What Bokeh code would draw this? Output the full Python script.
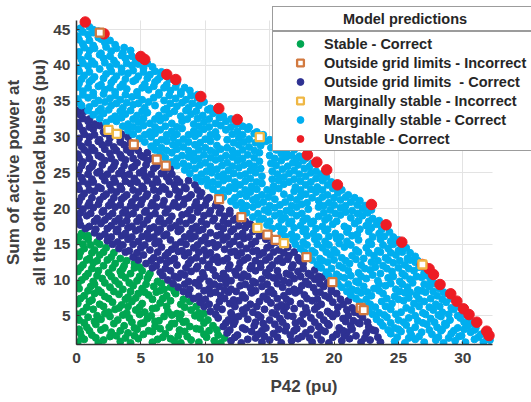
from bokeh.plotting import figure
from bokeh.models import Range1d, Legend, LegendItem, FixedTicker
from bokeh.embed import file_html
from bokeh.resources import INLINE

# ---------------- data ----------------
stable_correct = [
    (0.1,1.3),(0.6,1.7),(1.7,1.2),(2.1,1.6),(3.4,1.4),(4.2,1.2),(4.8,1.8),(5.9,1.3),(6.3,1.7),(7.6,1.5),(8.1,1.2),(8.9,1.6),(9.5,1.3),(10.7,1.5),(11.2,1.2),
    (0.4,2.0),(1.5,1.9),(2.6,2.1),(3.8,1.9),(4.5,2.2),(6.7,2.0),(7.3,1.8),(8.6,2.1),(10.1,2.0),(11.5,1.9),
    (0.3,2.6),(1.2,2.3),(2.7,2.7),(3.1,2.2),(4.0,2.6),(5.2,2.4),(5.6,2.9),(6.9,2.5),(7.9,2.2),(8.4,2.8),(9.9,2.4),(10.3,2.9),(11.0,2.3),
    (0.2,3.1),(1.0,2.9),(1.9,3.0),(3.4,2.9),(4.7,3.1),(5.9,2.8),(6.5,3.2),(8.0,3.0),(9.6,3.1),(10.9,3.0),
    (0.8,3.4),(1.5,3.8),(2.2,3.3),(3.7,3.6),(4.5,3.3),(5.0,3.9),(6.1,3.5),(7.2,3.4),(7.6,3.9),(8.8,3.5),(9.3,3.2),(10.6,3.6),
    (0.6,4.0),(1.4,4.2),(2.9,3.9),(4.3,4.1),(5.2,4.0),(6.1,4.2),(7.4,3.9),(8.3,4.1),(9.9,4.0),
    (0.2,4.4),(0.9,4.8),(1.9,4.5),(2.6,4.9),(3.2,4.4),(4.1,4.7),(5.5,4.6),(6.4,4.3),(6.8,4.9),(8.0,4.6),(8.5,4.2),(9.6,4.7),(10.2,4.4),
    (0.1,5.2),(1.6,5.0),(2.2,5.3),(3.6,5.1),(4.9,5.2),(5.8,5.0),(7.4,5.1),(8.1,5.2),(9.2,5.0),(9.9,5.3),
    (0.5,5.6),(1.3,5.9),(2.5,5.5),(3.0,5.9),(3.9,5.4),(4.6,5.8),(5.3,5.5),(5.9,6.0),(7.1,5.6),(7.8,5.3),(8.9,5.8),(9.5,5.4),
    (0.8,6.2),(2.1,6.3),(3.3,6.1),(4.0,6.3),(4.9,6.2),(6.2,6.1),(7.0,6.3),(8.4,6.2),(9.3,6.3),
    (0.1,6.7),(1.0,7.0),(1.8,6.6),(2.8,6.9),(3.5,6.5),(4.3,7.0),(5.1,6.7),(6.5,6.8),(7.3,7.1),(8.1,6.6),(8.8,7.0),
    (0.3,7.4),(1.2,7.2),(2.5,7.4),(3.8,7.3),(4.6,7.5),(5.9,7.3),(6.7,7.4),(8.3,7.3),
    (0.6,7.8),(1.4,8.1),(2.2,7.7),(3.3,8.0),(4.0,7.6),(4.8,8.1),(5.6,7.9),(6.2,8.3),(7.0,7.8),(7.7,8.1),
    (0.9,8.5),(1.9,8.3),(2.9,8.4),(4.2,8.4),(5.3,8.3),(6.5,8.5),(7.6,8.4),
    (0.2,8.8),(1.1,9.1),(1.7,8.6),(2.6,9.0),(3.6,8.7),(4.4,9.2),(5.1,8.8),(6.0,9.1),(6.8,8.7),(7.3,9.0),
    (0.1,9.5),(1.4,9.4),(2.2,9.6),(3.3,9.4),(4.1,9.6),(5.4,9.4),(6.6,9.5),
    (0.4,10.0),(1.3,9.8),(2.0,10.2),(3.0,9.9),(3.8,10.3),(4.7,9.9),(5.5,10.2),(6.3,9.8),
    (0.7,10.5),(1.6,10.6),(2.7,10.5),(3.5,10.7),(4.9,10.5),(5.6,10.6),
    (0.1,11.2),(0.9,10.9),(1.7,11.3),(2.5,11.0),(3.4,11.2),(4.2,10.9),(5.1,11.3),(5.7,10.9),
    (0.3,11.7),(1.2,11.6),(2.8,11.7),(3.6,11.6),(4.5,11.7),(4.9,11.8),
    (0.5,12.1),(1.3,12.4),(2.1,12.0),(3.0,12.3),(3.7,12.0),(4.5,12.3),
    (0.8,12.8),(1.6,12.7),(2.4,12.8),(3.9,12.7),
    (0.2,13.3),(1.0,13.0),(1.8,13.5),(2.7,13.2),(3.4,13.0),
    (0.3,13.9),(1.2,13.8),(2.1,13.9),(2.9,13.8),
    (0.6,14.4),(1.4,14.2),(2.3,14.5),
    (0.5,15.0),(1.1,14.9),(1.8,15.0),
    (0.1,15.4),(0.9,15.7),(1.6,15.3),
    (0.2,16.0),(0.7,16.1),
    (0.4,16.5),(0.9,16.2),
]

outside_correct = [
    (12.0,1.5),(12.8,1.2),(13.3,1.7),(14.4,1.3),(15.0,1.6),(15.9,1.2),(16.7,1.5),(17.2,1.8),(18.3,1.3),(19.0,1.6),(19.6,1.2),(20.6,1.5),(21.2,1.8),(22.1,1.3),(22.8,1.6),(23.6,1.3),
    (12.3,2.0),(13.9,1.9),(14.6,2.1),(15.6,2.0),(17.5,2.1),(18.1,1.9),(19.9,2.0),(20.8,2.2),(22.4,1.9),(23.4,2.0),
    (11.7,2.6),(12.5,2.3),(13.6,2.8),(14.1,2.4),(15.3,2.5),(16.2,2.9),(16.6,2.3),(17.8,2.6),(18.7,2.3),(19.3,2.8),(20.2,2.4),(21.0,2.7),(21.7,2.2),(22.5,2.6),(23.2,2.9),
    (11.9,3.0),(13.1,3.1),(14.4,2.9),(15.7,3.1),(16.9,2.9),(18.2,3.1),(19.0,3.0),(20.7,2.9),(21.4,3.1),(23.0,3.0),
    (11.4,3.5),(12.2,3.8),(12.9,3.3),(13.8,3.6),(14.7,3.3),(15.4,3.8),(16.3,3.5),(17.1,3.2),(17.6,3.9),(18.8,3.5),(19.6,3.7),(20.4,3.3),(21.3,3.6),(22.0,3.9),(22.7,3.4),
    (11.6,4.0),(12.3,4.2),(13.9,4.1),(14.5,3.9),(16.0,4.1),(17.0,4.0),(18.5,4.1),(19.5,3.9),(20.9,4.2),(21.9,4.0),(22.6,4.1),
    (11.0,4.7),(11.8,4.4),(12.6,4.9),(13.3,4.5),(14.3,4.8),(15.0,4.4),(15.8,4.6),(16.8,4.9),(17.4,4.3),(18.2,4.7),(19.2,4.4),(19.9,4.9),(20.7,4.6),(21.5,4.3),(22.2,4.8),
    (10.8,5.2),(12.1,5.0),(13.0,5.3),(14.1,5.1),(15.5,5.2),(16.4,5.0),(17.6,5.2),(18.9,5.1),(19.7,5.3),(21.1,5.0),(22.0,5.2),
    (10.4,5.6),(11.3,5.9),(12.0,5.4),(12.9,5.8),(13.7,5.5),(14.6,5.9),(15.2,5.4),(16.1,5.7),(16.9,6.0),(17.9,5.5),(18.5,5.9),(19.5,5.6),(20.2,5.3),(21.0,5.8),(21.6,5.5),
    (9.9,6.3),(10.9,6.2),(12.3,6.3),(13.2,6.1),(14.0,6.3),(15.6,6.2),(16.3,6.3),(17.8,6.1),(18.7,6.3),(20.3,6.2),(21.4,6.1),
    (9.6,6.9),(10.3,6.6),(11.1,7.0),(11.9,6.7),(12.6,7.1),(13.5,6.6),(14.2,7.0),(15.1,6.8),(15.9,6.5),(16.6,7.0),(17.4,6.7),(18.3,7.1),(19.0,6.6),(19.9,6.9),(20.7,6.6),(21.1,7.1),
    (9.1,7.4),(10.0,7.3),(11.5,7.4),(12.2,7.2),(13.1,7.5),(14.8,7.3),(15.6,7.4),(16.3,7.3),(17.9,7.4),(18.7,7.3),(19.6,7.5),(20.5,7.3),
    (8.7,8.0),(9.5,7.7),(10.4,8.1),(11.2,7.8),(11.8,8.3),(12.9,7.9),(13.6,8.2),(14.5,7.7),(15.3,8.1),(16.1,7.8),(17.0,8.2),(17.7,7.9),(18.6,8.3),(19.3,7.8),(20.2,8.1),
    (8.3,8.4),(9.9,8.5),(10.8,8.3),(11.5,8.6),(12.4,8.4),(13.9,8.5),(14.9,8.3),(16.5,8.4),(17.3,8.5),(18.9,8.3),(19.8,8.4),
    (7.9,9.0),(8.8,8.7),(9.5,9.2),(10.3,8.8),(11.1,9.1),(12.0,8.7),(12.7,9.2),(13.5,8.9),(14.4,9.1),(15.1,8.6),(16.0,9.0),(16.9,8.7),(17.5,9.2),(18.4,8.9),(19.2,9.1),(19.8,8.7),
    (7.5,9.5),(8.4,9.4),(9.2,9.6),(10.7,9.4),(11.6,9.5),(13.1,9.4),(13.9,9.6),(14.8,9.4),(15.6,9.5),(16.5,9.6),(18.0,9.4),(18.9,9.5),(19.5,9.6),
    (7.1,10.0),(7.9,10.3),(8.7,9.8),(9.6,10.1),(10.3,9.8),(11.2,10.2),(12.0,9.9),(12.8,10.3),(13.7,9.8),(14.4,10.1),(15.3,10.3),(16.1,9.9),(16.9,10.2),(17.8,9.8),(18.5,10.1),(19.1,10.4),
    (6.7,10.6),(7.6,10.5),(8.4,10.7),(9.9,10.5),(10.8,10.6),(11.6,10.4),(12.4,10.7),(13.3,10.5),(14.9,10.6),(15.7,10.5),(16.6,10.7),(17.4,10.5),(18.2,10.6),(18.8,10.5),
    (6.5,11.1),(7.3,11.3),(8.1,10.9),(8.9,11.2),(9.8,11.0),(10.6,11.4),(11.4,10.9),(12.3,11.2),(13.0,10.8),(13.9,11.3),(14.7,11.0),(15.6,11.3),(16.3,10.9),(17.2,11.2),(18.0,10.9),(18.5,11.4),
    (5.9,11.7),(6.9,11.6),(8.5,11.7),(9.3,11.6),(10.2,11.8),(11.8,11.6),(12.6,11.7),(13.5,11.6),(14.3,11.8),(15.0,11.6),(16.7,11.7),(17.6,11.6),
    (5.4,12.3),(6.2,12.0),(7.0,12.4),(7.8,12.1),(8.7,12.3),(9.4,11.9),(10.3,12.2),(11.0,12.5),(11.9,12.1),(12.7,12.4),(13.6,12.0),(14.3,12.3),(15.2,12.1),(16.0,12.5),(16.8,12.1),(17.6,12.3),
    (4.8,12.8),(5.8,12.7),(6.5,12.8),(7.3,12.7),(8.9,12.8),(9.8,12.7),(10.6,12.9),(11.4,12.7),(13.0,12.8),(13.9,12.7),(14.7,12.8),(15.6,12.7),(16.4,12.9),(17.3,12.7),
    (4.4,13.2),(5.2,13.5),(6.0,13.1),(6.9,13.4),(7.6,13.0),(8.4,13.4),(9.3,13.1),(10.1,13.5),(10.9,13.2),(11.7,13.0),(12.5,13.4),(13.3,13.1),(14.2,13.5),(15.0,13.2),(15.8,13.0),(16.5,13.4),(17.2,13.1),
    (3.8,13.9),(4.7,13.8),(6.3,13.9),(7.1,13.8),(7.9,14.0),(8.7,13.8),(9.5,13.9),(10.4,13.8),(12.0,13.9),(12.8,13.8),(13.7,14.0),(14.5,13.8),(15.3,13.9),(16.1,13.8),(16.9,13.9),
    (3.3,14.4),(4.1,14.1),(5.0,14.5),(5.7,14.2),(6.6,14.6),(7.4,14.3),(8.2,14.1),(9.1,14.5),(9.9,14.2),(10.8,14.6),(11.5,14.3),(12.3,14.0),(13.2,14.4),(14.0,14.1),(14.8,14.5),(15.7,14.2),(16.4,14.6),
    (2.8,15.0),(3.6,14.9),(4.4,15.0),(5.3,14.9),(6.1,15.1),(7.7,14.9),(8.5,15.0),(9.4,14.9),(10.2,15.1),(11.0,14.9),(11.9,15.0),(12.7,14.9),(13.6,15.0),(15.1,14.9),(16.0,15.0),
    (2.4,15.5),(3.2,15.3),(4.0,15.7),(4.8,15.4),(5.6,15.8),(6.4,15.4),(7.3,15.6),(8.1,15.3),(8.9,15.8),(9.7,15.5),(10.6,15.2),(11.4,15.6),(12.2,15.4),(13.0,15.8),(13.9,15.4),(14.7,15.7),(15.5,15.3),
    (1.8,16.1),(2.7,16.0),(3.5,16.2),(4.3,16.0),(5.1,16.1),(6.0,16.0),(6.8,16.2),(8.4,16.0),(9.2,16.1),(10.0,16.0),(10.9,16.2),(11.7,16.0),(12.5,16.1),(13.4,16.0),(14.2,16.2),(15.0,16.0),
    (1.4,16.6),(2.2,16.4),(3.1,16.8),(3.8,16.5),(4.6,16.9),(5.5,16.5),(6.3,16.7),(7.0,16.4),(7.9,16.8),(8.8,16.5),(9.5,16.9),(10.4,16.6),(11.2,16.4),(12.0,16.8),(12.9,16.5),(13.7,16.8),(14.5,16.4),
    (0.7,17.2),(1.5,17.1),(2.4,17.2),(3.2,17.1),(4.0,17.3),(4.9,17.1),(5.7,17.2),(6.5,17.1),(7.3,17.3),(8.1,17.1),(9.0,17.2),(9.8,17.1),(11.4,17.2),(12.2,17.1),(13.1,17.3),(13.9,17.1),
    (0.3,17.7),(1.0,17.5),(1.9,17.9),(2.7,17.6),(3.5,17.9),(4.3,17.5),(5.2,17.8),(6.0,17.4),(6.8,17.9),(7.7,17.6),(8.5,17.9),(9.3,17.5),(10.1,17.8),(11.0,17.5),(11.8,17.9),(12.6,17.6),(13.5,17.8),
    (0.2,18.3),(1.4,18.2),(2.2,18.4),(3.0,18.2),(3.9,18.3),(4.7,18.2),(5.5,18.4),(6.4,18.2),(7.2,18.3),(8.0,18.2),(8.9,18.4),(9.7,18.2),(10.6,18.3),(11.4,18.2),(12.2,18.4),(13.1,18.2),
    (0.1,18.8),(0.8,19.0),(1.6,18.6),(2.5,18.9),(3.3,18.6),(4.0,19.1),(4.9,18.7),(5.7,19.0),(6.5,18.6),(7.4,18.9),(8.2,19.1),(9.0,18.7),(9.9,19.0),(10.7,18.6),(11.5,18.9),(12.4,18.6),
    (0.3,19.4),(1.1,19.3),(2.0,19.5),(2.8,19.3),(3.6,19.4),(4.4,19.3),(5.3,19.5),(6.1,19.3),(6.9,19.4),(8.6,19.3),(9.4,19.5),(10.3,19.3),(11.1,19.4),(11.9,19.3),
    (0.5,19.9),(1.3,20.1),(2.1,19.7),(3.0,20.2),(3.8,19.8),(4.6,20.1),(5.4,19.7),(6.2,20.2),(7.1,19.9),(7.9,20.2),(8.8,19.8),(9.6,20.1),(10.4,19.7),(11.2,20.0),(11.9,19.7),
    (0.1,20.5),(0.9,20.4),(1.7,20.6),(2.5,20.4),(3.4,20.5),(4.2,20.4),(5.0,20.6),(5.8,20.4),(6.7,20.5),(7.5,20.4),(8.3,20.6),(9.2,20.4),(10.0,20.5),(10.8,20.4),
    (0.2,21.0),(1.0,20.8),(1.8,21.2),(2.7,20.9),(3.5,21.3),(4.3,20.9),(5.1,21.2),(5.9,20.8),(6.8,21.1),(7.6,20.8),(8.4,21.3),(9.3,20.9),(10.1,21.2),(10.9,20.8),
    (0.4,21.6),(1.2,21.5),(2.1,21.7),(2.9,21.5),(3.7,21.6),(4.6,21.5),(5.4,21.7),(6.2,21.5),(7.9,21.6),(8.7,21.5),(9.6,21.7),(10.3,21.5),
    (0.6,22.1),(1.4,22.4),(2.3,22.0),(3.1,22.3),(3.9,21.9),(4.8,22.3),(5.5,22.0),(6.4,22.4),(7.2,22.0),(8.0,22.3),(8.9,21.9),(9.7,22.2),
    (0.2,22.7),(1.0,22.6),(1.9,22.8),(2.7,22.6),(3.5,22.7),(4.4,22.6),(5.2,22.8),(6.0,22.6),(6.9,22.7),(7.7,22.6),(8.5,22.8),(9.4,22.6),
    (0.1,23.2),(0.9,23.4),(1.7,23.0),(2.6,23.3),(3.4,23.1),(4.2,23.5),(5.1,23.1),(5.9,23.4),(6.7,23.0),(7.6,23.3),(8.4,23.0),(9.2,23.3),
    (0.5,23.8),(1.3,23.7),(2.2,23.9),(3.0,23.7),(3.8,23.8),(4.7,23.7),(5.5,23.9),(6.3,23.7),(7.2,23.8),(8.0,23.7),(8.7,23.9),
    (0.4,24.3),(1.2,24.1),(2.0,24.5),(2.9,24.2),(3.7,24.6),(4.5,24.2),(5.3,24.5),(6.2,24.1),(7.0,24.4),(7.8,24.1),
    (0.1,24.9),(0.9,24.8),(1.6,25.0),(2.4,24.8),(3.3,24.9),(4.1,24.8),(4.9,25.0),(5.8,24.8),(6.6,24.9),(7.4,24.8),
    (0.2,25.4),(1.0,25.6),(1.8,25.2),(2.7,25.5),(3.5,25.3),(4.3,25.7),(5.2,25.3),(6.0,25.6),(6.8,25.2),(7.3,25.6),
    (0.4,26.0),(1.2,25.9),(2.0,26.1),(2.9,25.9),(3.7,26.0),(4.5,25.9),(5.4,26.1),(6.2,25.9),(6.8,26.0),
    (0.5,26.5),(1.3,26.3),(2.2,26.7),(3.0,26.4),(3.8,26.8),(4.7,26.4),(5.5,26.7),(6.2,26.3),
    (0.2,27.1),(1.0,27.0),(1.9,27.2),(2.7,27.0),(3.5,27.1),(4.4,27.0),(5.2,27.2),(5.9,27.0),
    (0.1,27.6),(0.9,27.8),(1.7,27.4),(2.6,27.7),(3.4,27.5),(4.2,27.8),(5.0,27.4),(5.5,27.8),
    (0.6,28.2),(1.4,28.1),(2.2,28.3),(3.1,28.1),(3.9,28.2),(4.8,28.1),
    (0.4,28.7),(1.2,28.5),(2.0,28.9),(2.9,28.6),(3.7,28.9),(4.5,28.5),
    (0.1,29.3),(0.9,29.2),(1.7,29.4),(2.5,29.2),(3.4,29.3),(4.2,29.2),
    (0.2,29.8),(1.0,30.0),(1.8,29.6),(2.6,29.9),(3.4,29.7),(4.0,30.0),
    (0.6,30.4),(1.4,30.3),(2.2,30.5),(3.0,30.3),(3.5,30.4),
    (0.5,30.9),(1.3,31.1),(2.1,30.7),(2.6,31.0),
    (0.2,31.5),(1.0,31.4),(1.8,31.6),
    (0.1,32.0),(0.9,32.2),(1.4,31.8),
    (0.5,32.6),(1.0,32.5),
    (0.3,33.1),(0.6,33.6),(0.1,33.7),
]

marginal_correct = [
    (24.7,1.4),(25.5,1.2),(26.3,1.7),(27.0,1.3),(27.9,1.6),(28.5,1.2),(29.4,1.5),(30.2,1.3),(30.9,1.7),(31.6,1.3),(32.1,1.6),
    (24.9,2.0),(25.8,1.9),(26.6,2.1),(28.1,2.0),(28.9,1.9),(29.7,2.1),(31.2,2.0),(31.9,1.9),
    (24.4,2.5),(25.2,2.8),(26.0,2.3),(26.8,2.7),(27.6,2.4),(28.3,2.9),(29.1,2.5),(29.9,2.2),(30.6,2.7),(31.4,2.4),
    (24.2,3.0),(25.0,3.1),(25.9,2.9),(27.4,3.0),(28.4,3.1),(29.3,2.9),(30.1,3.1),(30.9,3.0),
    (23.8,3.6),(24.7,3.3),(25.6,3.7),(26.3,3.4),(27.2,3.8),(28.0,3.4),(28.7,3.7),(29.6,3.3),(30.4,3.6),(31.0,3.3),
    (23.6,4.1),(24.4,4.0),(25.4,4.1),(26.9,4.0),(27.8,4.1),(28.6,3.9),(30.1,4.1),(30.7,4.0),
    (23.3,4.5),(24.1,4.8),(25.0,4.4),(25.8,4.7),(26.5,4.3),(27.5,4.6),(28.3,4.9),(29.0,4.4),(29.8,4.7),(30.5,4.4),
    (23.0,5.2),(23.9,5.1),(24.8,5.2),(26.3,5.0),(27.1,5.2),(28.1,5.1),(28.9,5.2),(29.6,5.0),(30.3,5.1),
    (22.7,5.7),(23.5,5.4),(24.4,5.9),(25.2,5.5),(26.0,5.8),(26.9,5.4),(27.7,5.8),(28.4,5.5),(29.3,5.9),(30.0,5.5),
    (22.4,6.3),(23.2,6.2),(24.0,6.3),(25.6,6.1),(26.6,6.3),(27.4,6.2),(28.2,6.3),(29.1,6.1),(29.8,6.2),
    (22.0,6.9),(22.8,6.6),(23.7,7.0),(24.5,6.7),(25.4,7.1),(26.2,6.7),(27.0,7.0),(27.9,6.6),(28.7,6.9),(29.5,6.6),
    (21.7,7.4),(22.5,7.3),(24.1,7.4),(25.0,7.3),(25.8,7.5),(26.6,7.3),(27.5,7.4),(28.4,7.3),(29.1,7.4),
    (21.3,7.9),(22.1,8.2),(22.9,7.8),(23.8,8.1),(24.7,7.7),(25.5,8.2),(26.4,7.9),(27.1,8.3),(28.0,7.8),(28.8,8.1),
    (21.0,8.4),(21.8,8.5),(22.6,8.3),(23.5,8.5),(25.1,8.4),(25.9,8.3),(26.8,8.5),(27.7,8.4),(28.5,8.3),
    (20.6,9.0),(21.4,8.7),(22.3,9.1),(23.1,8.8),(24.0,9.2),(24.8,8.7),(25.7,9.0),(26.5,8.6),(27.4,9.1),(28.2,8.8),
    (20.3,9.5),(21.1,9.4),(21.9,9.6),(23.5,9.4),(24.4,9.5),(25.3,9.4),(26.1,9.6),(27.0,9.4),(27.8,9.5),
    (20.0,10.0),(20.8,10.3),(21.7,9.8),(22.5,10.2),(23.4,9.9),(24.2,10.3),(25.1,9.8),(25.9,10.1),(26.8,10.4),(27.5,9.9),
    (19.6,10.6),(20.4,10.5),(21.3,10.6),(22.1,10.5),(23.0,10.7),(24.6,10.5),(25.5,10.6),(26.4,10.5),(27.2,10.6),
    (19.4,11.1),(20.2,10.8),(21.1,11.3),(21.9,11.0),(22.8,11.4),(23.6,10.9),(24.5,11.2),(25.3,10.9),(26.2,11.3),(27.0,11.0),
    (19.0,11.7),(19.8,11.6),(20.7,11.7),(22.4,11.6),(23.2,11.8),(24.1,11.6),(25.0,11.7),(25.8,11.6),(26.6,11.8),
    (18.7,12.2),(19.5,12.5),(20.4,12.0),(21.2,12.3),(22.1,12.1),(22.9,12.5),(23.8,12.0),(24.6,12.4),(25.5,12.1),(26.3,12.5),
    (18.3,12.8),(19.1,12.7),(20.0,12.8),(20.9,12.7),(21.7,12.9),(23.4,12.7),(24.2,12.8),(25.1,12.7),(25.9,12.8),(26.5,12.7),
    (18.0,13.3),(18.9,13.0),(19.7,13.5),(20.6,13.1),(21.4,13.4),(22.3,13.0),(23.1,13.4),(24.0,13.1),(24.8,13.5),(25.7,13.0),(26.3,13.3),
    (17.7,13.9),(18.5,13.8),(19.4,13.9),(20.2,13.8),(21.9,13.9),(22.7,13.8),(23.6,13.9),(24.4,13.8),(25.3,13.9),(25.9,13.8),
    (17.4,14.4),(18.3,14.1),(19.1,14.5),(20.0,14.2),(20.8,14.6),(21.7,14.2),(22.5,14.5),(23.4,14.1),(24.2,14.4),(25.0,14.1),(25.6,14.5),
    (17.0,15.0),(17.9,14.9),(18.7,15.0),(19.6,14.9),(20.4,15.1),(21.3,14.9),(22.9,15.0),(23.8,14.9),(24.6,15.0),(25.2,14.9),
    (16.8,15.6),(17.6,15.3),(18.5,15.7),(19.3,15.4),(20.2,15.8),(21.0,15.4),(21.9,15.6),(22.7,15.3),(23.6,15.7),(24.4,15.4),(25.0,15.6),
    (16.2,16.1),(17.1,16.0),(17.9,16.2),(18.8,16.0),(19.6,16.1),(20.5,16.0),(21.4,16.2),(23.0,16.0),(23.9,16.1),(24.6,16.0),
    (15.9,16.6),(16.7,16.4),(17.6,16.8),(18.4,16.5),(19.3,16.9),(20.1,16.5),(21.0,16.7),(21.8,16.4),(22.7,16.8),(23.5,16.5),(24.3,16.7),
    (15.2,17.2),(16.1,17.1),(16.9,17.3),(17.8,17.1),(18.6,17.2),(19.5,17.1),(21.1,17.2),(22.0,17.1),(22.9,17.3),(23.7,17.1),
    (14.8,17.7),(15.7,17.5),(16.5,17.9),(17.4,17.6),(18.2,17.9),(19.1,17.5),(19.9,17.8),(20.8,17.5),(21.6,17.9),(22.5,17.6),(23.3,17.8),(23.9,17.5),
    (14.2,18.3),(15.0,18.2),(15.9,18.4),(16.7,18.2),(17.6,18.3),(18.4,18.2),(19.3,18.4),(20.2,18.2),(21.9,18.3),(22.7,18.2),(23.5,18.3),
    (13.7,18.8),(14.5,18.6),(15.4,19.0),(16.2,18.7),(17.1,19.0),(17.9,18.6),(18.8,18.9),(19.6,18.7),(20.5,19.1),(21.3,18.7),(22.2,19.0),(23.0,18.6),
    (13.2,19.4),(14.1,19.3),(14.9,19.5),(15.8,19.3),(16.7,19.4),(17.5,19.3),(19.2,19.4),(20.1,19.3),(20.9,19.5),(21.8,19.3),(22.6,19.4),
    (12.9,19.9),(13.7,20.2),(14.6,19.8),(15.4,20.1),(16.3,19.7),(17.1,20.2),(18.0,19.9),(18.8,20.2),(19.7,19.8),(20.5,20.1),(21.4,19.7),(22.2,20.0),(22.9,19.8),
    (12.4,20.5),(13.2,20.4),(14.1,20.6),(15.0,20.4),(15.8,20.5),(16.7,20.4),(17.5,20.6),(19.2,20.4),(20.0,20.5),(20.9,20.4),(21.8,20.5),(22.4,20.4),
    (12.0,21.0),(12.8,20.8),(13.7,21.2),(14.5,20.9),(15.4,21.3),(16.2,20.9),(17.1,21.2),(17.9,20.8),(18.8,21.1),(19.6,20.8),(20.5,21.2),(21.3,20.9),(22.0,21.1),
    (11.4,21.6),(12.3,21.5),(13.2,21.7),(14.0,21.5),(14.9,21.6),(16.6,21.5),(17.4,21.7),(18.3,21.5),(19.1,21.6),(20.0,21.5),(20.9,21.6),(21.6,21.5),
    (11.0,22.1),(11.8,22.4),(12.7,22.0),(13.5,22.3),(14.4,21.9),(15.2,22.3),(16.1,22.0),(16.9,22.4),(17.8,22.0),(18.6,22.3),(19.5,21.9),(20.3,22.2),(21.1,21.9),
    (10.6,22.7),(11.4,22.6),(12.3,22.8),(13.1,22.6),(14.0,22.7),(14.8,22.6),(15.7,22.8),(17.4,22.6),(18.2,22.7),(19.1,22.6),(19.9,22.8),(20.6,22.6),
    (10.2,23.2),(11.0,23.4),(11.9,23.0),(12.7,23.3),(13.6,23.1),(14.4,23.5),(15.3,23.1),(16.1,23.4),(17.0,23.0),(17.8,23.3),(18.7,23.0),(19.5,23.3),(20.2,23.0),
    (9.7,23.8),(10.6,23.7),(11.4,23.9),(12.3,23.7),(13.1,23.8),(14.0,23.7),(15.7,23.9),(16.5,23.7),(17.4,23.8),(18.2,23.7),(19.1,23.9),(19.8,23.7),
    (9.3,24.3),(10.1,24.1),(11.0,24.5),(11.8,24.2),(12.7,24.6),(13.5,24.2),(14.4,24.5),(15.2,24.1),(16.1,24.4),(16.9,24.1),(17.8,24.5),(18.6,24.2),(19.4,24.4),
    (8.8,24.9),(9.7,24.8),(10.5,25.0),(11.4,24.8),(12.2,24.9),(13.1,24.8),(13.9,25.0),(15.6,24.8),(16.5,24.9),(17.3,24.8),(18.2,25.0),(19.0,24.8),
    (8.4,25.4),(9.2,25.6),(10.1,25.2),(10.9,25.5),(11.8,25.3),(12.6,25.7),(13.5,25.3),(14.3,25.6),(15.2,25.2),(16.0,25.5),(16.9,25.3),(17.7,25.6),(18.6,25.2),
    (7.8,26.0),(8.7,25.9),(9.6,26.1),(10.4,25.9),(11.3,26.0),(12.1,25.9),(13.0,26.1),(13.8,25.9),(15.5,26.0),(16.4,25.9),(17.2,26.1),(18.1,25.9),
    (7.4,26.5),(8.3,26.3),(9.1,26.7),(10.0,26.4),(10.8,26.8),(11.7,26.4),(12.5,26.7),(13.4,26.3),(14.2,26.6),(15.1,26.3),(15.9,26.7),(16.8,26.4),(17.6,26.7),(18.3,26.3),
    (6.9,27.1),(7.8,27.0),(8.7,27.2),(9.5,27.0),(10.4,27.1),(11.2,27.0),(12.1,27.2),(12.9,27.0),(13.8,27.1),(15.4,27.0),(16.3,27.2),(17.1,27.0),(17.8,27.0),
    (6.5,27.6),(7.4,27.8),(8.2,27.4),(9.1,27.7),(9.9,27.5),(10.8,27.8),(11.6,27.4),(12.5,27.7),(13.3,27.5),(14.2,27.8),(15.0,27.4),(15.9,27.7),(16.7,27.4),(17.3,27.3),
    (6.1,28.2),(7.0,28.1),(7.8,28.3),(8.7,28.1),(9.5,28.2),(10.4,28.1),(11.2,28.3),(12.1,28.1),(12.9,28.2),(13.8,28.1),(15.5,28.2),(16.3,28.1),(16.9,28.2),
    (5.8,28.7),(6.6,28.5),(7.5,28.9),(8.3,28.6),(9.2,28.9),(10.0,28.5),(10.9,28.8),(11.7,28.5),(12.6,28.9),(13.4,28.6),(14.3,28.8),(15.1,28.5),(16.0,28.7),
    (5.3,29.3),(6.2,29.2),(7.0,29.4),(7.9,29.2),(8.7,29.3),(9.6,29.2),(10.4,29.4),(12.2,29.2),(13.0,29.3),(13.9,29.2),(14.7,29.4),(15.6,29.2),
    (4.9,29.8),(5.8,30.0),(6.6,29.6),(7.5,29.9),(8.3,29.7),(9.2,30.1),(10.0,29.7),(10.9,30.0),(11.7,29.6),(12.6,29.9),(13.4,29.7),(14.3,30.0),(15.0,29.6),
    (4.4,30.4),(5.3,30.3),(6.1,30.5),(7.0,30.3),(7.8,30.4),(8.7,30.3),(9.5,30.5),(10.4,30.3),(12.1,30.4),(12.9,30.3),(13.8,30.5),(14.5,30.3),
    (4.0,30.9),(4.8,31.1),(5.7,30.7),(6.5,31.0),(7.4,30.8),(8.2,31.2),(9.1,30.8),(9.9,31.1),(10.8,30.7),(11.6,31.0),(12.5,30.8),(13.3,31.1),(14.0,30.7),
    (3.6,31.5),(4.4,31.4),(5.2,31.6),(6.1,31.4),(6.9,31.5),(7.8,31.4),(9.5,31.5),(10.3,31.4),(11.2,31.6),(12.0,31.4),(12.9,31.5),(13.4,31.4),
    (2.3,32.0),(3.1,32.2),(4.0,31.8),(4.8,32.1),(5.7,31.9),(6.5,32.3),(7.4,31.9),(8.2,32.2),(9.1,31.8),(9.9,32.1),(10.8,31.9),(11.6,32.2),(12.4,31.8),
    (1.8,32.6),(2.7,32.5),(3.5,32.7),(4.4,32.5),(5.2,32.6),(6.1,32.5),(6.9,32.7),(8.6,32.5),(9.4,32.6),(10.3,32.5),(11.1,32.7),(12.0,32.5),
    (1.3,33.1),(2.1,33.3),(3.0,32.9),(3.8,33.2),(4.7,33.0),(5.5,33.4),(6.4,33.0),(7.2,33.3),(8.1,32.9),(8.9,33.2),(9.8,33.0),(10.6,33.3),(11.4,32.9),
    (0.9,33.7),(1.7,33.6),(2.5,33.8),(3.4,33.6),(4.2,33.7),(5.1,33.6),(6.8,33.8),(7.6,33.6),(8.5,33.7),(9.3,33.6),(10.2,33.8),(11.0,33.6),
    (0.4,34.4),(1.0,34.2),(1.9,34.0),(2.7,34.4),(3.6,34.1),(4.4,34.5),(5.3,34.1),(6.1,34.4),(7.0,34.0),(7.8,34.3),(8.7,34.1),(9.5,34.4),(10.4,34.0),
    (0.2,34.8),(1.4,34.7),(2.2,34.9),(3.1,34.7),(3.9,34.8),(4.8,34.7),(5.6,34.9),(7.3,34.7),(8.2,34.8),(9.0,34.7),(9.9,34.9),
    (0.1,35.3),(0.9,35.5),(1.7,35.1),(2.6,35.4),(3.4,35.2),(4.3,35.6),(5.1,35.2),(6.0,35.5),(6.8,35.1),(7.7,35.4),(8.5,35.2),(9.4,35.5),
    (0.5,35.9),(1.3,35.8),(2.1,36.0),(3.0,35.8),(3.8,35.9),(4.7,35.8),(6.4,35.9),(7.2,35.8),(8.1,36.0),(8.9,35.8),(9.4,35.9),
    (0.5,36.4),(1.3,36.2),(2.2,36.6),(3.0,36.3),(3.9,36.7),(4.7,36.3),(5.6,36.6),(6.4,36.2),(7.3,36.5),(8.1,36.3),(8.8,36.5),
    (0.1,37.0),(0.9,36.9),(1.7,37.1),(2.6,36.9),(3.4,37.0),(5.1,36.9),(6.0,37.1),(6.8,36.9),(7.7,37.0),(8.4,36.9),
    (0.2,37.5),(1.0,37.7),(1.9,37.3),(2.7,37.6),(3.6,37.4),(4.4,37.8),(5.3,37.4),(6.1,37.7),(7.0,37.3),(7.8,37.6),
    (0.4,38.1),(1.2,38.0),(2.1,38.2),(2.9,38.0),(3.8,38.1),(4.6,38.0),(5.5,38.2),(6.3,38.0),(7.2,38.1),
    (0.6,38.6),(1.4,38.4),(2.3,38.8),(3.1,38.5),(4.0,38.9),(4.8,38.5),(5.7,38.7),(6.5,38.4),
    (0.2,39.2),(1.0,39.1),(2.7,39.2),(3.5,39.1),(4.4,39.3),(5.2,39.1),(6.1,39.2),(6.6,39.1),
    (0.1,39.7),(0.9,39.9),(1.8,39.5),(2.6,39.8),(3.5,39.6),(4.3,40.0),(5.2,39.6),(5.9,39.8),
    (0.5,40.3),(1.4,40.2),(2.2,40.4),(3.1,40.2),(3.9,40.3),(4.8,40.2),(5.5,40.3),
    (0.4,40.8),(1.2,40.6),(2.1,41.0),(2.9,40.7),(3.8,41.0),(4.6,40.6),(5.2,40.9),
    (0.1,41.4),(0.9,41.3),(1.8,41.5),(2.6,41.3),(3.5,41.4),(4.3,41.3),
    (0.2,41.9),(1.0,42.1),(1.9,41.7),(2.7,42.0),(3.6,41.8),(4.2,42.1),
    (0.6,42.5),(1.4,42.4),(2.3,42.6),(3.1,42.4),(3.7,42.5),
    (0.5,43.0),(1.3,42.8),(2.2,43.2),(3.0,42.9),
    (0.2,43.6),(1.0,43.5),(1.9,43.7),(2.6,43.5),
    (0.1,44.1),(0.9,44.3),(1.7,43.9),(2.2,44.2),
    (0.5,44.7),(1.3,44.6),(1.7,44.8),
    (0.3,45.2),(1.0,45.4),(1.3,45.0),
]

unstable_correct = [
    (0.68,46.08),(2.14,44.43),(4.99,41.26),(5.30,40.84),(7.01,38.74),(7.71,38.04),(9.65,35.66),
    (11.05,33.99),(12.48,32.45),(17.93,27.51),(18.66,26.48),(19.43,25.41),(20.26,23.31),(22.90,20.56),
    (24.04,17.72),(25.26,15.29),(26.86,12.17),(27.38,11.57),(27.72,10.77),(28.23,9.37),(29.06,8.07),
    (29.53,7.04),(30.05,5.97),(30.48,5.17),(31.08,4.10),(31.85,2.84),(32.03,2.24),
]

outside_incorrect = [
    (1.81,44.6),(4.45,28.95),(6.23,26.85),(6.93,26.0),(11.07,21.3),(12.8,18.8),
    (14.83,16.36),(15.47,15.6),(17.86,13.2),(19.87,9.7),(22.07,6.1),(22.3,5.8),
]

marginal_incorrect = [
    (2.48,31.0),(3.13,30.45),(14.23,29.97),(14.05,17.3),(16.12,15.15),(26.86,12.17),
]

x_ticks = [0, 5, 10, 15, 20, 25, 30]
y_ticks = [5, 10, 15, 20, 25, 30, 35, 40, 45]
x_axis_extent = (0, 32.3)
y_axis_extent = (0.98, 46.3)

legend_labels = [
    "Stable - Correct",
    "Outside grid limits - Incorrect",
    "Outside grid limits  - Correct",
    "Marginally stable - Incorrect",
    "Marginally stable - Correct",
    "Unstable - Correct",
]
legend_title = "Model predictions"

C_GREEN = "#00A651"
C_DBLUE = "#2E3192"
C_LBLUE = "#00AEEF"
C_RED = "#ED1C24"
C_ORANGE = "#D2793F"
C_YELLOW = "#EFB744"


def xs(pts):
    return [q[0] for q in pts]


def ys(pts):
    return [q[1] for q in pts]


FONT = "Liberation Sans"
TXT = "#404040"

# frame runs to the right and top edges of the page (so the legend is not clipped);
# axis lines and grids are bounded to the data extent.
p = figure(width=531, height=402, output_backend="svg", toolbar_location=None,
           x_range=Range1d(0, 35.33), y_range=Range1d(0.98, 49.09),
           min_border_left=76, min_border_right=0, min_border_top=0, min_border_bottom=58,
           background_fill_color="white", border_fill_color="white", outline_line_color=None)

r_green = p.scatter(xs(stable_correct), ys(stable_correct), size=7, color=C_GREEN)
r_dblue = p.scatter(xs(outside_correct), ys(outside_correct), size=7, color=C_DBLUE)
r_lblue = p.scatter(xs(marginal_correct), ys(marginal_correct), size=7, color=C_LBLUE)
r_red = p.scatter(xs(unstable_correct), ys(unstable_correct), size=10.5, color=C_RED)
r_orange = p.scatter(xs(outside_incorrect), ys(outside_incorrect), marker="square", size=8,
                     fill_color="white", line_color=C_ORANGE, line_width=2.3)
r_yellow = p.scatter(xs(marginal_incorrect), ys(marginal_incorrect), marker="square", size=8,
                     fill_color="white", line_color=C_YELLOW, line_width=2.3)
r_dummy = p.scatter([], [], size=1, alpha=0)

# axes
for ax in (p.xaxis[0], p.yaxis[0]):
    ax.axis_line_color = "#333333"
    ax.axis_line_width = 1.5
    ax.major_tick_in = 3
    ax.major_tick_out = 0
    ax.minor_tick_line_color = None
    ax.major_tick_line_color = "#333333"
    ax.major_label_text_font = FONT
    ax.major_label_text_font_style = "bold"
    ax.major_label_text_font_size = "15.5px"
    ax.major_label_text_color = TXT
    ax.axis_label_text_font = FONT
    ax.axis_label_text_font_style = "bold"
    ax.axis_label_text_font_size = "17px"
    ax.axis_label_text_color = TXT

p.xaxis.bounds = x_axis_extent
p.yaxis.bounds = y_axis_extent
p.xaxis.ticker = FixedTicker(ticks=x_ticks)
p.yaxis.ticker = FixedTicker(ticks=y_ticks)
p.xaxis.axis_label = "P42 (pu)"
p.yaxis.axis_label = "Sum of active power at\nall the other load buses (pu)"
p.xaxis.major_label_standoff = 8
p.yaxis.major_label_standoff = 6
p.xaxis.axis_label_standoff = 11
p.yaxis.axis_label_standoff = 1
p.yaxis.axis_label_text_line_height = 1.4

p.grid.grid_line_color = "#e3e3e3"
p.grid.grid_line_width = 1
xg, yg = p.xgrid[0], p.ygrid[0]
if "cross_bounds" in xg.properties():
    xg.cross_bounds = y_axis_extent
    yg.cross_bounds = x_axis_extent

# legend: title box on top, items box below
title_legend = Legend(items=[LegendItem(label=legend_title, renderers=[r_dummy])],
                      location=(196, 313), padding=3, glyph_width=67, glyph_height=17,
                      label_height=17, label_width=200, label_standoff=0,
                      label_text_font=FONT, label_text_font_style="bold",
                      label_text_font_size="14.5px", label_text_color="#262626",
                      border_line_color="#3a3a3a", border_line_width=1,
                      background_fill_color="white", background_fill_alpha=1.0, margin=0)
items_legend = Legend(items=[LegendItem(label=l, renderers=[r]) for l, r in zip(
                          legend_labels, [r_green, r_orange, r_dblue, r_yellow, r_lblue, r_red])],
                      location=(196, 193), padding=3, glyph_width=48, glyph_height=17,
                      label_height=17, label_width=220, label_standoff=0, spacing=2,
                      label_text_font=FONT, label_text_font_style="bold",
                      label_text_font_size="14.5px", label_text_color="#262626",
                      border_line_color="#3a3a3a", border_line_width=1,
                      background_fill_color="white", background_fill_alpha=1.0, margin=0)
p.add_layout(items_legend)
p.add_layout(title_legend)

open("out.html", "w").write(file_html(p, INLINE))
